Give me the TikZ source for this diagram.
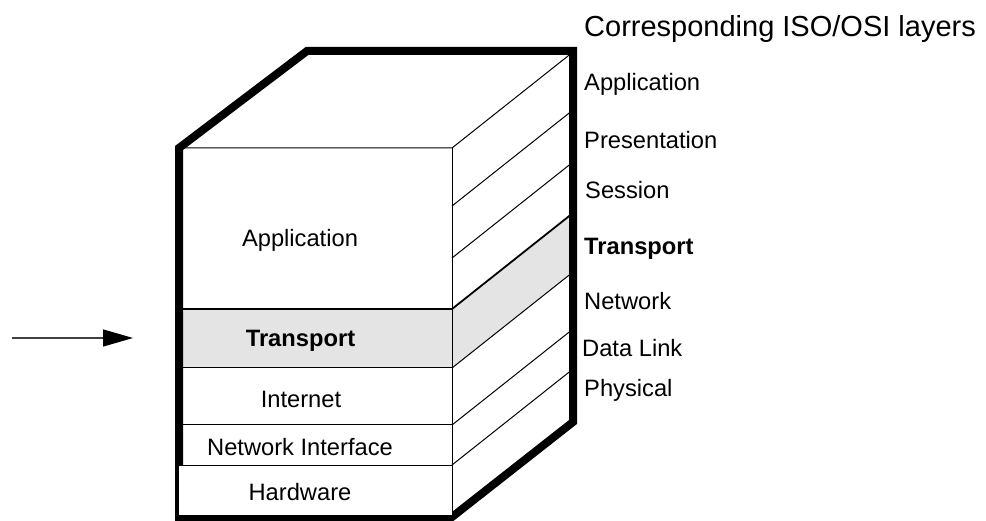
\documentclass[tikz,border=0pt]{standalone}
\usepackage{fontspec}
\setmainfont{Liberation Sans}
\usetikzlibrary{arrows.meta}
\definecolor{layershade}{HTML}{E4E4E4}
\begin{document}
\begin{tikzpicture}[x=1pt,y=-1pt,
  thinline/.style={line width=1pt},
  outline/.style={line width=8pt, line join=miter},
  lbl/.style={inner sep=0pt, anchor=base, font=\fontsize{23.7}{28}\selectfont},
  osi/.style={inner sep=0pt, anchor=base west, font=\fontsize{23.7}{28}\selectfont},
]
\useasboundingbox (0,0) rectangle (986,521);

% shaded transport band (side and front)
\fill[layershade] (452,309) -- (573,213) -- (573,272) -- (452,368) -- cycle;
\filldraw[fill=layershade, thinline] (179,309) rectangle (452,368);

% front face lines
\draw[thinline] (179,148) -- (452,148) -- (573,52);
\draw[thinline] (452,148) -- (452,515);
\draw[line width=1.5pt] (179,309) -- (452,309);
\draw[thinline] (179,368) -- (452,368);
\draw[thinline] (179,425) -- (452,425);
\draw[thinline] (179,465) -- (452,465);

% side face lines
\draw[thinline] (452,206) -- (573,110);
\draw[thinline] (452,258) -- (573,162);
\draw[line width=1.8pt] (452,309) -- (573,213);
\draw[thinline] (452,368) -- (573,272);
\draw[thinline] (452,425) -- (573,329);
\draw[thinline] (452,465) -- (573,369);

% thick outline
\draw[outline] (179,517) -- (179,148) -- (307,51) -- (573,51) -- (573,422) -- (452,517) -- cycle;

% hardware box drawn over the outline
\filldraw[fill=white, thinline] (178,465) rectangle (452,515);

% front labels
\node[lbl] (app) at (300,247) {Application};
\node[lbl] (trans) at (300.5,347) {\bfseries Transport};
\node[lbl] (inet) at (301,408) {Internet};
\node[lbl] (netif) at (300,456) {Network Interface};
\node[lbl] (hw) at (300,500) {Hardware};

% OSI labels
\node[osi, font=\fontsize{29}{34}\selectfont] (title) at (584,36.7) {Corresponding ISO/OSI layers};
\node[osi] (oapp) at (584,90.7) {Application};
\node[osi] (opres) at (584,149) {Presentation};
\node[osi] (osess) at (585,199) {Session};
\node[osi] (otrans) at (584,255) {\bfseries Transport};
\node[osi] (onet) at (584,310) {Network};
\node[osi] (olink) at (582,357) {Data Link};
\node[osi] (ophys) at (584,397) {Physical};

% arrow
\coordinate (arrowstart) at (12,338);
\coordinate (arrowtip) at (133,338);
\draw[line width=1.3pt, draw=black!75, -{Triangle[length=30pt,width=17pt,color=black]}] (arrowstart) -- (arrowtip);
\end{tikzpicture}
\end{document}
